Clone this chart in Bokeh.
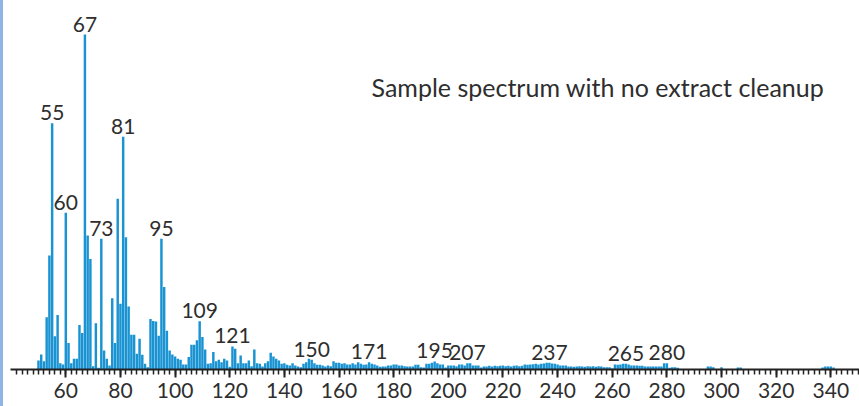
from bokeh.plotting import figure
from bokeh.models import ColumnDataSource, FixedTicker, Label, Range1d, Div
from bokeh.layouts import row
from bokeh.core.properties import value
from bokeh.embed import file_html
from bokeh.resources import INLINE

# m/z values (integer masses) and relative intensities (%)
mz_main = list(range(50, 285))
intensity_main = [
    2.7, 4.5, 2.5, 15.6, 34.0, 73.5, 9.9, 16.3, 1.9, 1.5,
    46.8, 7.9, 1.9, 3.2, 3.2, 13.3, 10.9, 100.0, 40.0, 33.0,
    1.0, 13.8, 0.5, 39.0, 5.7, 3.2, 1.2, 21.3, 7.9, 51.0,
    19.6, 69.5, 39.5, 18.8, 10.4, 10.4, 4.7, 9.2, 4.4, 1.7,
    0.7, 15.1, 14.5, 14.3, 10.1, 39.0, 24.6, 11.6, 5.7, 4.5,
    3.9, 3.2, 2.9, 1.5, 1.5, 3.7, 7.4, 7.4, 8.7, 14.4,
    9.7, 6.0, 1.7, 1.9, 5.2, 2.5, 2.9, 2.2, 3.2, 2.7,
    0.8, 6.9, 6.2, 1.9, 4.2, 1.9, 1.9, 2.7, 1.0, 6.0,
    1.9, 1.7, 0.9, 1.9, 2.5, 5.0, 3.9, 3.2, 2.7, 1.7,
    1.9, 1.4, 1.2, 1.9, 1.2, 0.9, 0.7, 1.7, 2.2, 3.2,
    2.9, 1.9, 1.4, 1.4, 1.2, 0.9, 1.2, 1.0, 2.5, 2.0,
    2.0, 1.7, 1.9, 1.5, 1.5, 1.9, 1.5, 2.2, 1.7, 1.4,
    1.5, 2.2, 1.7, 1.5, 1.2, 0.8, 0.9, 0.9, 1.2, 1.2,
    1.5, 1.5, 1.2, 1.2, 1.0, 0.9, 0.9, 0.9, 1.4, 1.4,
    0.7, 0.6, 1.7, 1.7, 2.0, 2.4, 1.9, 1.5, 1.5, 0.6,
    1.2, 1.2, 1.2, 1.0, 1.5, 1.5, 1.2, 1.9, 1.9, 1.2,
    1.2, 1.2, 0.6, 0.9, 0.9, 1.1, 0.9, 1.1, 1.0, 1.1,
    1.2, 1.0, 1.1, 0.9, 1.1, 1.2, 1.0, 1.1, 1.5, 1.4,
    1.5, 1.6, 1.7, 1.5, 1.7, 1.8, 2.0, 2.0, 1.8, 1.7,
    1.5, 1.2, 1.2, 1.2, 0.9, 0.9, 0.8, 0.9, 1.0, 0.9,
    0.8, 1.0, 0.9, 1.0, 0.8, 1.0, 0.9, 0.7, 0.7, 0.7,
    0.3, 1.5, 1.4, 1.5, 1.7, 1.7, 1.5, 1.2, 1.2, 1.2,
    1.1, 1.1, 0.9, 0.9, 0.9, 0.9, 0.9, 0.9, 0.9, 1.9,
    1.9, 0.5, 0.7, 0.7, 0.5,
]
mz_high = [295, 296, 297, 300, 306, 307, 337, 338, 339, 340, 341]
intensity_high = [0.9, 0.9, 0.7, 0.7, 0.6, 0.6, 0.6, 0.9, 0.9, 0.9, 0.6]

peak_labels = [55, 60, 67, 73, 81, 95, 109, 121, 150, 171, 195, 207, 237, 265, 280]
x_tick_values = [60, 80, 100, 120, 140, 160, 180, 200, 220, 240, 260, 280, 300, 320, 340]
title_text = "Sample spectrum with no extract cleanup"

mz_all = mz_main + mz_high
int_all = intensity_main + intensity_high
lookup = dict(zip(mz_all, int_all))

BAR = "#1a93d2"
TXT = "#2e2e2e"
FONT = "Lato"

p = figure(width=856, height=406, output_backend="svg", toolbar_location=None,
           x_range=Range1d(39.76, 350.5), y_range=Range1d(0, 110.15),
           min_border_left=7, min_border_right=0, min_border_top=0, min_border_bottom=37)
p.outline_line_color = None
p.grid.visible = False
p.yaxis.visible = False
p.background_fill_color = "white"
p.border_fill_color = "white"

src = ColumnDataSource(dict(mz=mz_all, inten=int_all))
p.vbar(x="mz", top="inten", bottom=0, width=0.9, source=src,
       fill_color=BAR, line_color=None)

lab_src = ColumnDataSource(dict(x=peak_labels, y=[lookup[m] for m in peak_labels],
                                t=[str(m) for m in peak_labels]))
p.text(x="x", y="y", text="t", source=lab_src, text_font=value(FONT),
       text_font_size="21px", text_color=TXT, text_align="center",
       text_baseline="bottom", y_offset=-3)

p.add_layout(Label(x=171.9, y=84.2, text=title_text, text_font=FONT,
                   text_font_size="25px", text_color=TXT, text_align="left",
                   text_baseline="middle"))

ax = p.xaxis[0]
ax.ticker = FixedTicker(ticks=x_tick_values, minor_ticks=list(range(42, 351, 2)))
ax.axis_line_color = "#222222"
ax.axis_line_width = 2
ax.major_tick_line_color = "#222222"
ax.major_tick_line_width = 2
ax.major_tick_in = 0
ax.major_tick_out = 8
ax.minor_tick_line_color = "#222222"
ax.minor_tick_line_width = 1.5
ax.minor_tick_in = 0
ax.minor_tick_out = 5
ax.major_label_text_font = FONT
ax.major_label_text_font_size = "21px"
ax.major_label_text_color = TXT
ax.major_label_standoff = 5

stripe = Div(width=3, height=406, margin=(0, 0, 0, 0),
             styles={"background-color": "#8db4e2"})

layout = row(stripe, p, spacing=0)
open("out.html", "w").write(file_html(layout, INLINE))
